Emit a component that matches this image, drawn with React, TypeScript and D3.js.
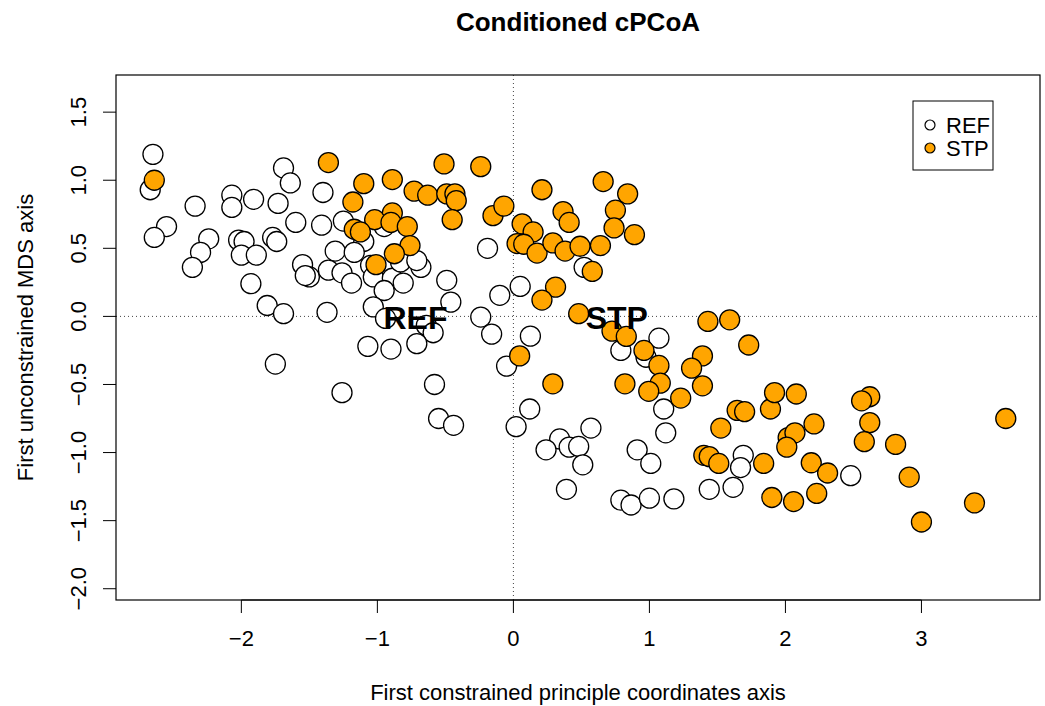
import React from 'react';
import * as d3 from 'd3';

// site scores (x = constrained axis, y = MDS axis)
const refX = [-2.65, -2.67, -2.34, -2.55, -2.64, -2.24, -2.30, -2.36, -2.07, -2.07, -1.91, -1.73, -1.69, -1.64, -1.60, -2.02, -1.98, -2.00, -1.89, -1.77, -1.74, -1.93, -1.55, -1.50, -1.53, -1.81, -1.69, -1.40, -1.41, -1.25, -1.10, -1.31, -1.17, -1.36, -1.26, -1.19, -1.05, -1.03, -0.89, -0.95, -0.81, -0.83, -0.68, -0.49, -0.46, -1.03, -1.37, -0.94, -0.24, -0.19, -0.10, -0.93, -0.95, -0.71, 0.52, 0.05, -0.64, -0.59, -0.16, -1.07, -0.90, -0.71, -1.75, -1.26, -0.58, -0.55, -0.44, -0.05, 0.02, 0.125, 0.79, 1.07, 0.975, 1.105, 1.12, 0.12, 0.57, 0.34, 0.24, 0.41, 0.48, 0.51, 0.91, 1.01, 0.39, 0.79, 0.865, 1.00, 1.18, 1.69, 1.67, 1.44, 1.615, 2.48];
const refY = [1.19, 0.93, 0.81, 0.66, 0.58, 0.57, 0.47, 0.36, 0.89, 0.80, 0.86, 0.83, 1.09, 0.98, 0.69, 0.56, 0.55, 0.45, 0.45, 0.58, 0.55, 0.24, 0.38, 0.29, 0.30, 0.08, 0.02, 0.91, 0.67, 0.70, 0.55, 0.48, 0.47, 0.34, 0.32, 0.245, 0.375, 0.29, 0.28, 0.19, 0.245, 0.40, 0.36, 0.265, 0.105, 0.07, 0.03, -0.015, -0.005, 0.50, 0.155, 0.70, 0.66, 0.41, 0.36, 0.22, -0.066, -0.12, -0.13, -0.22, -0.24, -0.20, -0.35, -0.56, -0.50, -0.75, -0.80, -0.365, -0.81, -0.145, -0.25, -0.16, -0.30, -0.68, -0.855, -0.68, -0.82, -0.90, -0.98, -0.96, -0.955, -1.09, -0.98, -1.08, -1.27, -1.35, -1.385, -1.335, -1.34, -1.02, -1.11, -1.27, -1.255, -1.17];

const stpX = [-2.64, -1.36, -0.51, -0.24, -1.10, -0.89, -0.73, -0.63, -0.49, -0.43, -0.42, -1.18, -0.45, -0.15, -0.07, -0.89, -1.02, -0.90, -0.78, -1.17, -1.125, -0.76, -0.875, -1.01, 0.21, 0.66, 0.84, 0.365, 0.41, 0.75, 0.74, 0.89, 0.064, 0.145, 0.027, 0.076, 0.174, 0.29, 0.38, 0.49, 0.64, 0.58, 0.31, 0.21, 0.48, 0.046, 0.29, 0.725, 0.83, 0.96, 1.07, 1.43, 1.59, 1.73, 1.39, 1.31, 0.82, 1.08, 0.995, 1.39, 1.23, 1.525, 1.645, 1.70, 1.89, 1.92, 2.08, 1.40, 1.44, 1.51, 1.84, 1.90, 2.62, 2.56, 3.62, 2.21, 2.62, 2.02, 2.07, 2.01, 2.58, 2.81, 2.19, 2.31, 2.91, 2.06, 2.23, 3.39, 3.00];
const stpY = [1.00, 1.13, 1.12, 1.10, 0.975, 1.005, 0.92, 0.89, 0.90, 0.90, 0.85, 0.84, 0.71, 0.74, 0.81, 0.76, 0.71, 0.69, 0.66, 0.64, 0.62, 0.52, 0.46, 0.38, 0.93, 0.99, 0.90, 0.77, 0.69, 0.78, 0.65, 0.60, 0.68, 0.62, 0.535, 0.53, 0.465, 0.54, 0.48, 0.515, 0.52, 0.33, 0.215, 0.12, 0.02, -0.29, -0.495, -0.108, -0.147, -0.25, -0.36, -0.037, -0.025, -0.21, -0.29, -0.38, -0.495, -0.49, -0.55, -0.51, -0.60, -0.82, -0.69, -0.70, -0.68, -0.56, -0.57, -1.02, -1.03, -1.08, -1.08, -1.33, -0.59, -0.62, -0.75, -0.79, -0.78, -0.89, -0.855, -0.96, -0.92, -0.94, -1.075, -1.15, -1.18, -1.36, -1.30, -1.37, -1.51];

const groups = ['REF', 'STP'];
const groupFill = ['#ffffff', '#ffa500'];
const centroidX = [-0.72, 0.76];
const centroidY = [-0.015, -0.015];
const xTicks = [-2, -1, 0, 1, 2, 3];
const yTicks = [-2.0, -1.5, -1.0, -0.5, 0.0, 0.5, 1.0, 1.5];
const yLim = [-1.94, 1.63];

const W = 1045;
const H = 706;
const plot = { left: 116, right: 1040, top: 75, bottom: 600 };
const font = '"Liberation Sans", Arial, Helvetica, sans-serif';

export default function App() {
  const allX = refX.concat(stpX);
  const [xmin, xmax] = d3.extent(allX) as [number, number];
  const xpad = (xmax - xmin) * 0.04;
  const ypad = (yLim[1] - yLim[0]) * 0.04;

  const x = d3.scaleLinear().domain([xmin - xpad, xmax + xpad]).range([plot.left, plot.right]);
  const y = d3.scaleLinear().domain([yLim[0] - ypad, yLim[1] + ypad]).range([plot.bottom, plot.top]);

  const pts = [
    ...refX.map((v, i) => ({ x: v, y: refY[i], g: 0 })),
    ...stpX.map((v, i) => ({ x: v, y: stpY[i], g: 1 })),
  ];

  const fmtY = (d: number) => d.toFixed(1).replace('-', '\u2212');
  const fmtX = (d: number) => String(d).replace('-', '\u2212');

  return (
    <svg width={W} height={H} style={{ display: 'block', position: 'absolute', left: 0, top: 0 }} fontFamily={font}>
      <rect x={0} y={0} width={W} height={H} fill="#fff" />
      <text x={(plot.left + plot.right) / 2} y={31} textAnchor="middle" fontSize={26} fontWeight="bold">
        Conditioned cPCoA
      </text>

      {/* zero reference lines */}
      <line x1={x(0)} x2={x(0)} y1={plot.top} y2={plot.bottom} stroke="#444" strokeDasharray="1,3" />
      <line x1={plot.left} x2={plot.right} y1={y(0)} y2={y(0)} stroke="#444" strokeDasharray="1,3" />

      {pts.map((p, i) => (
        <circle key={i} cx={x(p.x)} cy={y(p.y)} r={10} fill={groupFill[p.g]} stroke="#000" strokeWidth={1.3} />
      ))}

      {groups.map((g, i) => (
        <text key={g} x={x(centroidX[i])} y={y(centroidY[i])} textAnchor="middle" dominantBaseline="central"
          fontSize={32} fontWeight="bold">{g}</text>
      ))}

      <rect x={plot.left} y={plot.top} width={plot.right - plot.left} height={plot.bottom - plot.top}
        fill="none" stroke="#000" strokeWidth={1.2} />

      {/* x axis */}
      <line x1={x(xTicks[0])} x2={x(xTicks[xTicks.length - 1])} y1={plot.bottom} y2={plot.bottom} stroke="#000" />
      {xTicks.map(t => (
        <g key={t}>
          <line x1={x(t)} x2={x(t)} y1={plot.bottom} y2={plot.bottom + 13} stroke="#000" />
          <text x={x(t)} y={646} textAnchor="middle" fontSize={22}>{fmtX(t)}</text>
        </g>
      ))}
      <text x={(plot.left + plot.right) / 2} y={700} textAnchor="middle" fontSize={22}>
        First constrained principle coordinates axis
      </text>

      {/* y axis */}
      {yTicks.map(t => (
        <g key={t}>
          <line x1={plot.left - 13} x2={plot.left} y1={y(t)} y2={y(t)} stroke="#000" />
          <text transform={`translate(${plot.left - 30},${y(t)}) rotate(-90)`} textAnchor="middle" fontSize={22}>
            {fmtY(t)}
          </text>
        </g>
      ))}
      <text transform={`translate(33,${(plot.top + plot.bottom) / 2}) rotate(-90)`} textAnchor="middle" fontSize={22}>
        First unconstrained MDS axis
      </text>

      {/* legend */}
      <rect x={913} y={101} width={80} height={69} fill="#fff" stroke="#000" />
      {groups.map((g, i) => (
        <g key={g}>
          <circle cx={930} cy={125 + i * 23} r={5} fill={groupFill[i]} stroke="#000" strokeWidth={1.2} />
          <text x={946} y={125 + i * 23} dominantBaseline="central" fontSize={22}>{g}</text>
        </g>
      ))}
    </svg>
  );
}
